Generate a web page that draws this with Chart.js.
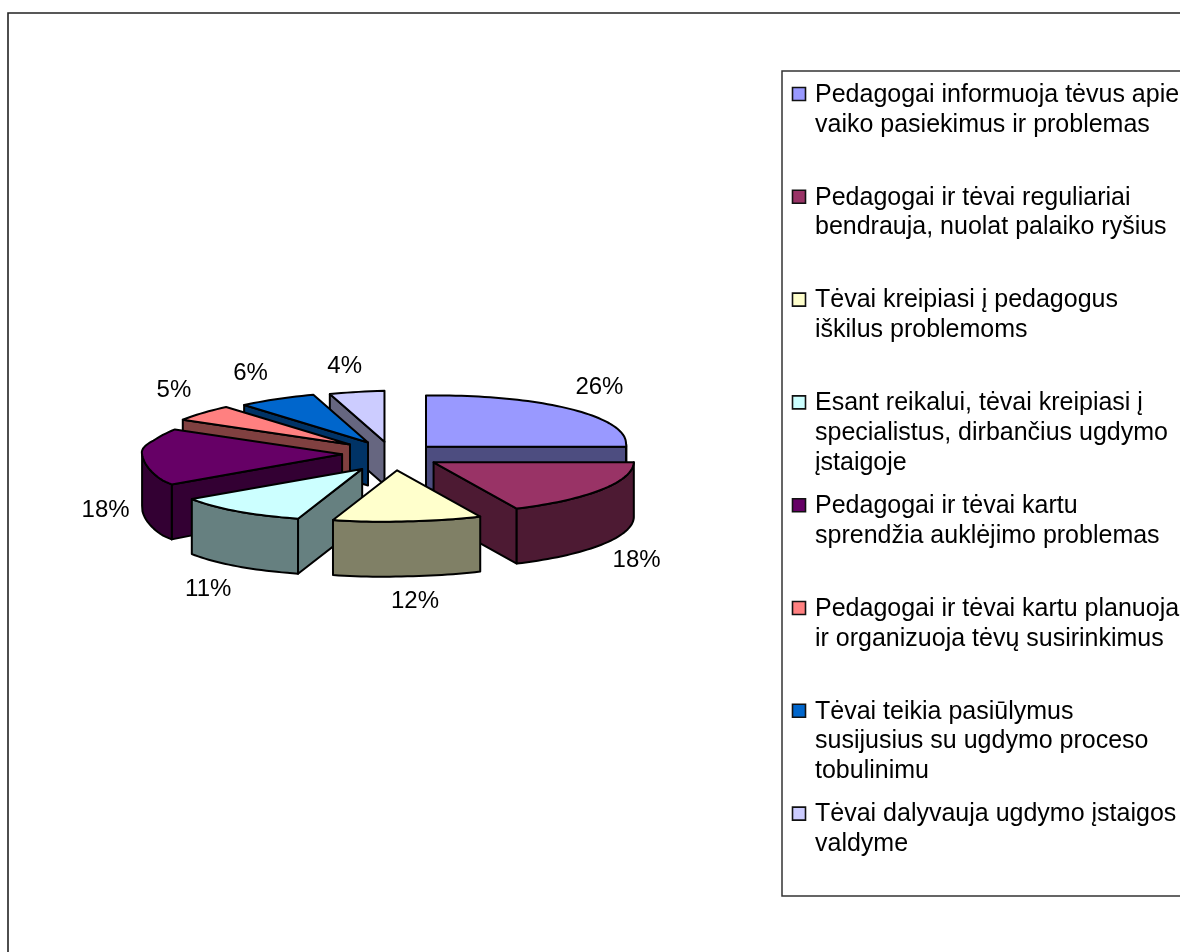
<!DOCTYPE html>
<html>
<head>
<meta charset="utf-8">
<style>html,body{margin:0;padding:0;background:#fff}canvas{display:block}</style>
<script src="https://cdn.jsdelivr.net/npm/chart.js@4"></script>
</head>
<body>
<canvas id="c" width="1180" height="952"></canvas>
<script>
const categories = [
  ["Pedagogai informuoja tėvus apie", "vaiko pasiekimus ir problemas"],
  ["Pedagogai ir tėvai reguliariai", "bendrauja, nuolat palaiko ryšius"],
  ["Tėvai kreipiasi į pedagogus", "iškilus problemoms"],
  ["Esant reikalui, tėvai kreipiasi į", "specialistus, dirbančius ugdymo", "įstaigoje"],
  ["Pedagogai ir tėvai kartu", "sprendžia auklėjimo problemas"],
  ["Pedagogai ir tėvai kartu planuoja", "ir organizuoja tėvų susirinkimus"],
  ["Tėvai teikia pasiūlymus", "susijusius su ugdymo proceso", "tobulinimu"],
  ["Tėvai dalyvauja ugdymo įstaigos", "valdyme"]
];
const values = [26, 18, 12, 11, 18, 5, 6, 4];
const colors = ["#9999FF", "#993366", "#FFFFCC", "#CCFFFF", "#660066", "#FF8080", "#0066CC", "#CCCCFF"];
const explode = [48, 49, 60, 52, 49, 58, 54, 52];
const paintOrder = [0, 1, 7, 6, 5, 4, 3, 2];
const labelNudge = [[-3,-3],[11,-5],[24,-4],[9,8],[4,6],[-12,3],[-17,4],[-10,6]];

const TILT = 0.255, SKEW_X = 0.2, SKEW_Y = 0.016, SAG = 0.032;
const LABEL_FONT = '24px "Liberation Sans", Arial, sans-serif';
const LEGEND_FONT = '25px "Liberation Sans", Arial, sans-serif';
const LEG = {x: 782, y: 71, bottom: 896, step: 102.8, first: 93.5, line: 29.8, textX: 815};

function shade(hex) {
  const n = parseInt(hex.slice(1), 16);
  const f = v => Math.round(v * 0.5);
  return `rgb(${f(n >> 16 & 255)},${f(n >> 8 & 255)},${f(n & 255)})`;
}
const depthAt = y => y <= 450 ? 43 : y >= 456 ? 55 : 43 + (y - 450) * 2;

const pie3d = {
  id: 'pie3d',
  beforeDraw(chart) {
    const ctx = chart.ctx;
    ctx.save();
    ctx.strokeStyle = '#222';
    ctx.lineWidth = 1.6;
    ctx.beginPath();
    ctx.moveTo(8, 952); ctx.lineTo(8, 13); ctx.lineTo(1180, 13);
    ctx.stroke();
    ctx.restore();
  },
  beforeDatasetDraw(chart) {
    const ctx = chart.ctx;
    const arcs = chart.getDatasetMeta(0).data;
    ctx.save();
    ctx.lineJoin = 'round';
    ctx.lineWidth = 2;
    ctx.strokeStyle = '#000';
    paintOrder.forEach(i => {
      const el = arcs[i];
      const a0 = el.startAngle, a1 = el.endAngle, r = el.outerRadius;
      const mid = (a0 + a1) / 2, off = el.options.offset;
      const gain = 1 + 0.8 * Math.max(0, -Math.cos(mid)) * Math.max(0, Math.sin(mid));
      const oy = TILT * Math.sin(mid) * off * gain;
      const ax = el.x + Math.cos(mid) * off + 0.4 * Math.max(0, oy), ay = el.y + oy;
      const P = a => {
        const dx = r * Math.cos(a), dy = TILT * r * Math.sin(a);
        let x = ax + dx + SKEW_X * Math.max(0, dy), y = ay + dy - SKEW_Y * Math.max(0, dx);
        if (dx < 0) {
          y += SAG * -dx * Math.min(1, Math.abs(dy) / 20);
          if (dy < 0) x += SKEW_X * dy * Math.sqrt(-dx / r);
        }
        return [x, y];
      };
      const low = p => [p[0], p[1] + depthAt(p[1])];
      const apex = [ax, ay];
      const side = shade(el.options.backgroundColor);
      const poly = (pts, fill) => {
        ctx.beginPath();
        pts.forEach((p, k) => k ? ctx.lineTo(p[0], p[1]) : ctx.moveTo(p[0], p[1]));
        ctx.closePath();
        ctx.fillStyle = fill;
        ctx.fill();
        ctx.stroke();
      };
      const samples = (s, e) => {
        const n = Math.max(2, Math.ceil((e - s) / 0.03)), out = [];
        for (let k = 0; k <= n; k++) out.push(P(s + (e - s) * k / n));
        return out;
      };
      if (Math.cos(a0) < -0.05) {
        const e = P(a0);
        poly([apex, e, low(e), low(apex)], side);
      }
      if (Math.cos(a1) > 0.05) {
        const e = P(a1);
        poly([apex, e, low(e), low(apex)], side);
      }
      const ws = Math.max(a0, 0), we = Math.min(a1, Math.PI);
      if (we > ws) {
        const top = samples(ws, we);
        poly(top.concat(top.slice().reverse().map(low)), side);
      }
      poly([apex].concat(samples(a0, a1)), el.options.backgroundColor);
    });
    ctx.restore();
    return false;
  },
  afterDatasetsDraw(chart) {
    const ctx = chart.ctx;
    const arcs = chart.getDatasetMeta(0).data;
    const total = values.reduce((s, v) => s + v, 0);
    ctx.save();
    ctx.font = LABEL_FONT;
    ctx.fillStyle = '#000';
    ctx.textAlign = 'center';
    ctx.textBaseline = 'middle';
    arcs.forEach((el, i) => {
      const mid = (el.startAngle + el.endAngle) / 2;
      const dy = Math.sin(mid);
      const x = el.x + 290 * Math.cos(mid) + labelNudge[i][0];
      const y = el.y + 95 * dy + (dy > -0.2 ? 55 : 0) + labelNudge[i][1];
      ctx.fillText(Math.round(values[i] / total * 100) + '%', x, y);
    });
    // legend
    ctx.strokeStyle = '#333';
    ctx.lineWidth = 1.5;
    ctx.beginPath();
    ctx.moveTo(1180, LEG.y); ctx.lineTo(LEG.x, LEG.y); ctx.lineTo(LEG.x, LEG.bottom); ctx.lineTo(1180, LEG.bottom);
    ctx.stroke();
    ctx.textAlign = 'left';
    ctx.font = LEGEND_FONT;
    chart.data.labels.forEach((lines, i) => {
      const y0 = LEG.first + i * LEG.step;
      ctx.fillStyle = colors[i];
      ctx.strokeStyle = '#111';
      ctx.lineWidth = 1.6;
      ctx.beginPath();
      ctx.rect(792.5, y0 - 6, 13, 13);
      ctx.fill();
      ctx.stroke();
      ctx.fillStyle = '#000';
      lines.forEach((t, k) => ctx.fillText(t, LEG.textX, y0 + 1.5 + k * LEG.line));
    });
    ctx.restore();
  }
};

new Chart(document.getElementById('c'), {
  type: 'pie',
  data: {
    labels: categories,
    datasets: [{ data: values, backgroundColor: colors, offset: explode, borderWidth: 0, hoverOffset: 0 }]
  },
  options: {
    responsive: false,
    animation: false,
    rotation: 0,
    radius: 200,
    layout: { padding: { left: 0, top: 0, right: 398, bottom: 42 } },
    plugins: { legend: { display: false }, tooltip: { enabled: false } },
    events: []
  },
  plugins: [pie3d]
});
</script>
</body>
</html>
